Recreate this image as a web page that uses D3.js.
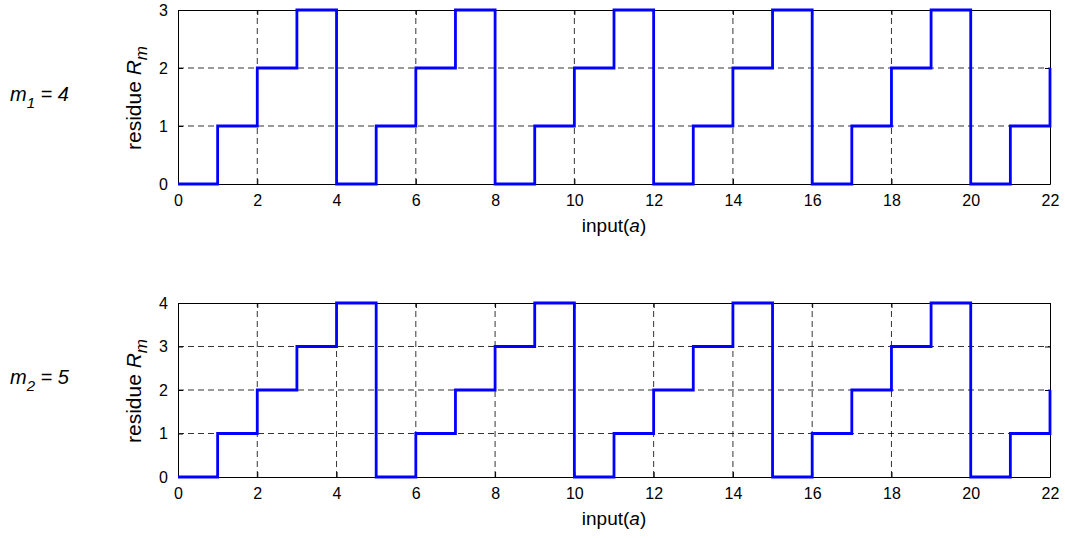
<!DOCTYPE html>
<html>
<head>
<meta charset="utf-8">
<script src="https://cdn.jsdelivr.net/npm/d3@7"></script>
<style>
  html, body { margin: 0; padding: 0; background: #fff; }
  svg { display: block; font-family: "Liberation Sans", Arial, sans-serif; }
</style>
</head>
<body>
<svg id="chart" width="1065" height="538"></svg>
<script>
// Input values a = 0 .. 22
const inputs = [0,1,2,3,4,5,6,7,8,9,10,11,12,13,14,15,16,17,18,19,20,21,22];
// Residues for modulus m1 = 4
const residuesM1 = [0,1,2,3,0,1,2,3,0,1,2,3,0,1,2,3,0,1,2,3,0,1,2];
// Residues for modulus m2 = 5
const residuesM2 = [0,1,2,3,4,0,1,2,3,4,0,1,2,3,4,0,1,2,3,4,0,1,2];

const xTicks = [0,2,4,6,8,10,12,14,16,18,20,22];
const yTicksM1 = [0,1,2,3];
const yTicksM2 = [0,1,2,3,4];

const panels = [
  { sub: "1", mod: "4", values: residuesM1, yTicks: yTicksM1, top: 10, labelY: 101 },
  { sub: "2", mod: "5", values: residuesM2, yTicks: yTicksM2, top: 303, labelY: 384 }
];

const svg = d3.select("#chart");
const left = 178, right = 1050, plotH = 174;

panels.forEach(p => {
  const x = d3.scaleLinear().domain([0, 22]).range([left, right]);
  const y = d3.scaleLinear().domain(d3.extent(p.yTicks)).range([p.top + plotH, p.top]);
  const g = svg.append("g");

  // dashed grid
  g.selectAll("line.gx").data(xTicks.slice(1, -1)).join("line")
    .attr("x1", d => x(d)).attr("x2", d => x(d))
    .attr("y1", y.range()[0]).attr("y2", y.range()[1])
    .attr("stroke", "#000").attr("stroke-width", 0.8).attr("stroke-dasharray", "6,4");
  g.selectAll("line.gy").data(p.yTicks.slice(1, -1)).join("line")
    .attr("x1", left).attr("x2", right)
    .attr("y1", d => y(d)).attr("y2", d => y(d))
    .attr("stroke", "#000").attr("stroke-width", 0.8).attr("stroke-dasharray", "6,4");

  // axes: ticks point inward, box around the plot
  const fmt = d3.format("d");
  const axB = g.append("g").attr("transform", `translate(0,${y.range()[0]})`)
    .call(d3.axisBottom(x).tickValues(xTicks).tickFormat(fmt).tickSizeInner(-5).tickSizeOuter(0).tickPadding(11));
  const axT = g.append("g").attr("transform", `translate(0,${y.range()[1]})`)
    .call(d3.axisTop(x).tickValues(xTicks).tickSizeInner(-5).tickSizeOuter(0).tickFormat(""));
  const axL = g.append("g").attr("transform", `translate(${left},0)`)
    .call(d3.axisLeft(y).tickValues(p.yTicks).tickFormat(fmt).tickSizeInner(-5).tickSizeOuter(0).tickPadding(10));
  const axR = g.append("g").attr("transform", `translate(${right},0)`)
    .call(d3.axisRight(y).tickValues(p.yTicks).tickSizeInner(-5).tickSizeOuter(0).tickFormat(""));
  [axB, axT, axL, axR].forEach(a => {
    a.selectAll("path.domain").attr("stroke", "#000").attr("stroke-width", 1);
    a.selectAll(".tick line").attr("stroke", "#000").attr("stroke-width", 1);
    a.selectAll("text").attr("fill", "#000").style("font-size", "16px")
      .style("font-family", "'Liberation Sans', Arial, sans-serif");
  });

  // staircase of residues
  const line = d3.line()
    .x((d, i) => x(inputs[i])).y(d => y(d))
    .curve(d3.curveStepAfter);
  g.append("path").datum(p.values)
    .attr("d", line)
    .attr("fill", "none").attr("stroke", "#0000ff").attr("stroke-width", 2.8);

  // x label
  const xl = g.append("text")
    .attr("x", (left + right) / 2).attr("y", y.range()[0] + 48)
    .attr("text-anchor", "middle").style("font-size", "19px");
  xl.append("tspan").text("input(");
  xl.append("tspan").attr("font-style", "italic").text("a");
  xl.append("tspan").text(")");

  // y label
  const cy = p.top + plotH / 2 + 1;
  const yl = g.append("text")
    .attr("transform", `translate(141,${cy}) rotate(-90)`)
    .attr("text-anchor", "middle").style("font-size", "21px");
  yl.append("tspan").text("residue ");
  yl.append("tspan").attr("font-style", "italic").text("R");
  yl.append("tspan").attr("font-style", "italic").attr("dy", 6).style("font-size", "17px").text("m");

  // modulus label
  const ml = g.append("text")
    .attr("x", 10).attr("y", p.labelY)
    .attr("font-style", "italic").style("font-size", "20px");
  ml.append("tspan").text("m");
  ml.append("tspan").attr("dy", 7).style("font-size", "15px").text(p.sub);
  ml.append("tspan").attr("dy", -7).text("\u00a0= " + p.mod);
});
</script>
</body>
</html>
